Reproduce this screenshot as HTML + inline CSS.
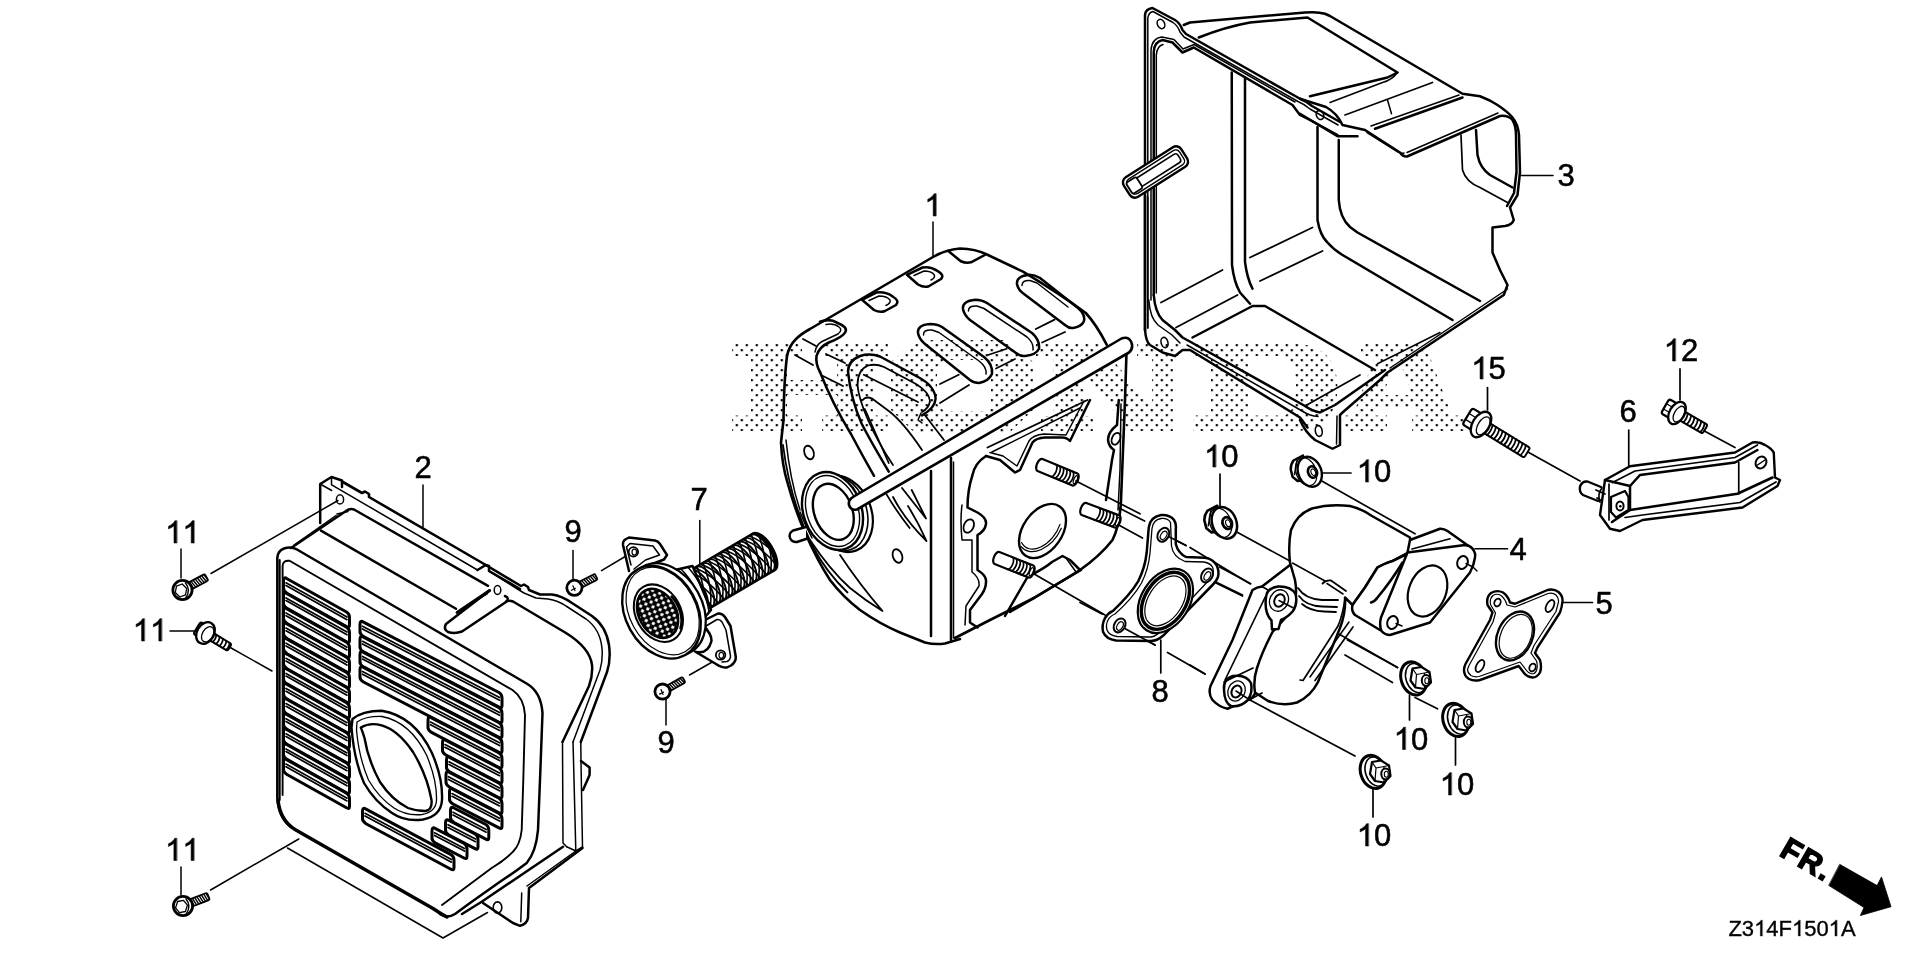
<!DOCTYPE html>
<html><head><meta charset="utf-8"><title>Diagram</title>
<style>
html,body{margin:0;padding:0;background:#fff;}
body{width:1920px;height:960px;overflow:hidden;font-family:"Liberation Sans",sans-serif;}
svg{display:block;font-family:"Liberation Sans",sans-serif;will-change:transform;}
</style></head><body>
<svg width="1920" height="960" viewBox="0 0 1920 960" fill="none" stroke="#000" stroke-linecap="round" stroke-linejoin="round">
<rect x="0" y="0" width="1920" height="960" fill="#fff" stroke="none"/>
<path d="M 763 0 H 583 V -1147 Q 518 -1085 412.5 -1023 Q 307 -961 223 -930 V -1104 Q 374 -1175 487 -1276 Q 600 -1377 647 -1472 H 763 Z" transform="translate(924.38,216) scale(0.01514)" fill="#000" vector-effect="non-scaling-stroke" stroke="#000" stroke-width="0.55"/>
<text x="414.38" y="478" font-size="31" fill="#000" stroke="#000" stroke-width="0.55">2</text>
<text x="1557.38" y="186" font-size="31" fill="#000" stroke="#000" stroke-width="0.55">3</text>
<text x="1509.38" y="560" font-size="31" fill="#000" stroke="#000" stroke-width="0.55">4</text>
<text x="1595.38" y="614" font-size="31" fill="#000" stroke="#000" stroke-width="0.55">5</text>
<text x="1619.38" y="422" font-size="31" fill="#000" stroke="#000" stroke-width="0.55">6</text>
<text x="690.38" y="510" font-size="31" fill="#000" stroke="#000" stroke-width="0.55">7</text>
<text x="1151.38" y="702" font-size="31" fill="#000" stroke="#000" stroke-width="0.55">8</text>
<text x="564.38" y="542" font-size="31" fill="#000" stroke="#000" stroke-width="0.55">9</text>
<text x="657.38" y="753" font-size="31" fill="#000" stroke="#000" stroke-width="0.55">9</text>
<path d="M 763 0 H 583 V -1147 Q 518 -1085 412.5 -1023 Q 307 -961 223 -930 V -1104 Q 374 -1175 487 -1276 Q 600 -1377 647 -1472 H 763 Z" transform="translate(1204.06,467) scale(0.01514)" fill="#000" vector-effect="non-scaling-stroke" stroke="#000" stroke-width="0.55"/>
<text x="1221.30" y="467" font-size="31" fill="#000" stroke="#000" stroke-width="0.55">0</text>
<path d="M 763 0 H 583 V -1147 Q 518 -1085 412.5 -1023 Q 307 -961 223 -930 V -1104 Q 374 -1175 487 -1276 Q 600 -1377 647 -1472 H 763 Z" transform="translate(1356.76,482) scale(0.01514)" fill="#000" vector-effect="non-scaling-stroke" stroke="#000" stroke-width="0.55"/>
<text x="1374.00" y="482" font-size="31" fill="#000" stroke="#000" stroke-width="0.55">0</text>
<path d="M 763 0 H 583 V -1147 Q 518 -1085 412.5 -1023 Q 307 -961 223 -930 V -1104 Q 374 -1175 487 -1276 Q 600 -1377 647 -1472 H 763 Z" transform="translate(1393.76,749.5) scale(0.01514)" fill="#000" vector-effect="non-scaling-stroke" stroke="#000" stroke-width="0.55"/>
<text x="1411.00" y="749.5" font-size="31" fill="#000" stroke="#000" stroke-width="0.55">0</text>
<path d="M 763 0 H 583 V -1147 Q 518 -1085 412.5 -1023 Q 307 -961 223 -930 V -1104 Q 374 -1175 487 -1276 Q 600 -1377 647 -1472 H 763 Z" transform="translate(1439.76,795) scale(0.01514)" fill="#000" vector-effect="non-scaling-stroke" stroke="#000" stroke-width="0.55"/>
<text x="1457.00" y="795" font-size="31" fill="#000" stroke="#000" stroke-width="0.55">0</text>
<path d="M 763 0 H 583 V -1147 Q 518 -1085 412.5 -1023 Q 307 -961 223 -930 V -1104 Q 374 -1175 487 -1276 Q 600 -1377 647 -1472 H 763 Z" transform="translate(1356.76,846) scale(0.01514)" fill="#000" vector-effect="non-scaling-stroke" stroke="#000" stroke-width="0.55"/>
<text x="1374.00" y="846" font-size="31" fill="#000" stroke="#000" stroke-width="0.55">0</text>
<path d="M 763 0 H 583 V -1147 Q 518 -1085 412.5 -1023 Q 307 -961 223 -930 V -1104 Q 374 -1175 487 -1276 Q 600 -1377 647 -1472 H 763 Z" transform="translate(165.16,543) scale(0.01514)" fill="#000" vector-effect="non-scaling-stroke" stroke="#000" stroke-width="0.55"/>
<path d="M 763 0 H 583 V -1147 Q 518 -1085 412.5 -1023 Q 307 -961 223 -930 V -1104 Q 374 -1175 487 -1276 Q 600 -1377 647 -1472 H 763 Z" transform="translate(182.40,543) scale(0.01514)" fill="#000" vector-effect="non-scaling-stroke" stroke="#000" stroke-width="0.55"/>
<path d="M 763 0 H 583 V -1147 Q 518 -1085 412.5 -1023 Q 307 -961 223 -930 V -1104 Q 374 -1175 487 -1276 Q 600 -1377 647 -1472 H 763 Z" transform="translate(132.76,641) scale(0.01514)" fill="#000" vector-effect="non-scaling-stroke" stroke="#000" stroke-width="0.55"/>
<path d="M 763 0 H 583 V -1147 Q 518 -1085 412.5 -1023 Q 307 -961 223 -930 V -1104 Q 374 -1175 487 -1276 Q 600 -1377 647 -1472 H 763 Z" transform="translate(150.00,641) scale(0.01514)" fill="#000" vector-effect="non-scaling-stroke" stroke="#000" stroke-width="0.55"/>
<path d="M 763 0 H 583 V -1147 Q 518 -1085 412.5 -1023 Q 307 -961 223 -930 V -1104 Q 374 -1175 487 -1276 Q 600 -1377 647 -1472 H 763 Z" transform="translate(165.06,860.5) scale(0.01514)" fill="#000" vector-effect="non-scaling-stroke" stroke="#000" stroke-width="0.55"/>
<path d="M 763 0 H 583 V -1147 Q 518 -1085 412.5 -1023 Q 307 -961 223 -930 V -1104 Q 374 -1175 487 -1276 Q 600 -1377 647 -1472 H 763 Z" transform="translate(182.30,860.5) scale(0.01514)" fill="#000" vector-effect="non-scaling-stroke" stroke="#000" stroke-width="0.55"/>
<path d="M 763 0 H 583 V -1147 Q 518 -1085 412.5 -1023 Q 307 -961 223 -930 V -1104 Q 374 -1175 487 -1276 Q 600 -1377 647 -1472 H 763 Z" transform="translate(1663.76,361) scale(0.01514)" fill="#000" vector-effect="non-scaling-stroke" stroke="#000" stroke-width="0.55"/>
<text x="1681.00" y="361" font-size="31" fill="#000" stroke="#000" stroke-width="0.55">2</text>
<path d="M 763 0 H 583 V -1147 Q 518 -1085 412.5 -1023 Q 307 -961 223 -930 V -1104 Q 374 -1175 487 -1276 Q 600 -1377 647 -1472 H 763 Z" transform="translate(1471.26,379) scale(0.01514)" fill="#000" vector-effect="non-scaling-stroke" stroke="#000" stroke-width="0.55"/>
<text x="1488.50" y="379" font-size="31" fill="#000" stroke="#000" stroke-width="0.55">5</text>
<text x="1728.41" y="936" font-size="22" fill="#000" stroke="#000" stroke-width="0.35">Z</text>
<text x="1741.85" y="936" font-size="22" fill="#000" stroke="#000" stroke-width="0.35">3</text>
<path d="M 763 0 H 583 V -1147 Q 518 -1085 412.5 -1023 Q 307 -961 223 -930 V -1104 Q 374 -1175 487 -1276 Q 600 -1377 647 -1472 H 763 Z" transform="translate(1754.08,936) scale(0.01074)" fill="#000" vector-effect="non-scaling-stroke" stroke="#000" stroke-width="0.35"/>
<text x="1766.32" y="936" font-size="22" fill="#000" stroke="#000" stroke-width="0.35">4</text>
<text x="1778.55" y="936" font-size="22" fill="#000" stroke="#000" stroke-width="0.35">F</text>
<path d="M 763 0 H 583 V -1147 Q 518 -1085 412.5 -1023 Q 307 -961 223 -930 V -1104 Q 374 -1175 487 -1276 Q 600 -1377 647 -1472 H 763 Z" transform="translate(1791.99,936) scale(0.01074)" fill="#000" vector-effect="non-scaling-stroke" stroke="#000" stroke-width="0.35"/>
<text x="1804.22" y="936" font-size="22" fill="#000" stroke="#000" stroke-width="0.35">5</text>
<text x="1816.45" y="936" font-size="22" fill="#000" stroke="#000" stroke-width="0.35">0</text>
<path d="M 763 0 H 583 V -1147 Q 518 -1085 412.5 -1023 Q 307 -961 223 -930 V -1104 Q 374 -1175 487 -1276 Q 600 -1377 647 -1472 H 763 Z" transform="translate(1828.68,936) scale(0.01074)" fill="#000" vector-effect="non-scaling-stroke" stroke="#000" stroke-width="0.35"/>
<text x="1840.92" y="936" font-size="22" fill="#000" stroke="#000" stroke-width="0.35">A</text>
<path d="M 320.2,523 L 320.2,484 L 331.5,477 L 342,480.5 L 342,487" stroke-width="2.5" fill="none" />
<path d="M 331.5,477 L 331.5,484.5" stroke-width="1.5" fill="none" />
<path d="M 342,481.5 L 362,493 L 365,491.5 L 369,494 L 369,497 L 485.8,565" stroke-width="2.6" fill="none" />
<path d="M 331.7,484.8 L 477.5,570" stroke-width="1.5" fill="none" />
<path d="M 320.2,484 L 331.7,490.5" stroke-width="1.5" fill="none" />
<ellipse cx="340" cy="499.4" rx="3.6" ry="4.6" stroke-width="1.5"/>
<path d="M 291,548 L 346,511 Q 350,508 354,509.5 L 488,585.8" stroke-width="2.5" fill="none" />
<path d="M 294,545 L 336,515.5" stroke-width="1.5" fill="none" />
<path d="M 337,514 L 348,511.5" stroke-width="1.5" fill="none" />
<path d="M 321,530.6 L 456,608.75" stroke-width="2.5" fill="none" />
<path d="M 489.6,590.5 L 457,612.5" stroke-width="2.8" fill="none" />
<path d="M 489.6,590.5 L 446,624 Q 443,629 448,632 Q 455,634 462,631.5 L 506,602 Q 510,598 505,596" stroke-width="2.5" fill="none" />
<path d="M 466.7,606 L 487.5,593.5" stroke-width="1.5" fill="none" />
<path d="M 477.5,570 L 485.8,565 L 489,566 L 489,571 L 520,589" stroke-width="2.5" fill="none" />
<ellipse cx="497.5" cy="590" rx="3.3" ry="4.4" stroke-width="1.5"/>
<path d="M 485.8,565 L 521,586 L 524,584.5 L 528,587 L 529,590 L 540,594.5 L 552,594.5 Q 562,596 572,603 L 592,616 Q 606,626 609,645 Q 611,660 607,672 L 580.8,742" stroke-width="2.5" fill="none" />
<path d="M 489,571 L 519,590 L 524,593 L 536,598 L 548,599 Q 558,600.5 566,606 L 586,619 Q 600,629 602,648 Q 603,660 600,670 L 573,742" stroke-width="1.5" fill="none" />
<path d="M 506,601.5 Q 509,600 513,601.5 L 566,633 Q 590,648 592,665 Q 593,675 589,686 L 562.5,742" stroke-width="2.5" fill="none" />
<path d="M 580.8,742 L 581,762 L 582.5,847" stroke-width="1.5" fill="none" />
<path d="M 573,742 L 573.5,760 L 575.8,850" stroke-width="1.5" fill="none" />
<path d="M 562.5,742 L 563,843 L 566.7,846.7" stroke-width="1.5" fill="none" />
<path d="M 581,761 L 589.6,767.5 L 589.6,775 L 583,790" stroke-width="2.5" fill="none" />
<path d="M 582.5,847 L 575.8,851 L 566.7,846.7" stroke-width="1.5" fill="none" />
<path d="M 582.5,848 L 529,888 L 528,918 Q 527,924 520,925.8 L 513,923 L 483,903" stroke-width="2.5" fill="none" />
<path d="M 521.7,893 L 520.8,921.7" stroke-width="1.5" fill="none" />
<ellipse cx="497.5" cy="907.5" rx="4.3" ry="5.6" stroke-width="1.6"/>
<path d="M 563,846.7 L 481.7,901.7 L 462,914" stroke-width="2.5" fill="none" />
<path d="M 575.8,851 L 527,886" stroke-width="1.5" fill="none" />
<path d="M 291.5,827.5 Q 278.5,818 277.3,798 L 277.3,558 Q 277.5,551 284,548.5 Q 291,546 297,549.5 L 527,683.75 Q 541,692 542.5,713 L 540,780 L 538,830 Q 536,852 526.7,863 Q 515,872 500,881.7 L 470,903 L 455,914 Q 447,919 440,914" stroke-width="2.5" fill="none" />
<path d="M 279.6,800 L 279.6,560" stroke-width="2.2" fill="none" />
<path d="M 282.6,795 L 282.6,566 Q 282.8,560 289.6,560.8 L 512.5,690 Q 524,698 525,715 L 523.3,780 L 521.7,830 Q 520,845 513,851.7 Q 505,860 491.7,868 L 442,905" stroke-width="1.9" fill="none" />
<path d="M 278,800 Q 280,820 295,829.5 L 433,908.5 Q 441,914 447,917" stroke-width="3.4" fill="none" />
<path d="M 287.0,578.7 L 346.5,612.0 Q 349.5,613.7 349.5,617.7 L 349.5,625.3 Q 349.5,628.3 346.5,626.6 L 287.0,593.3 Q 283.0,590.6 283.5,587.6 L 283.5,581.0 Q 283.5,576.0 287.0,578.7 Z" stroke-width="3.0" fill="#fff" />
<path d="M 286.0,582.8 L 347.0,617.0" stroke-width="1.7" fill="none" />
<path d="M 286.0,585.5 L 347.0,619.7" stroke-width="1.7" fill="none" />
<path d="M 287.0,593.8 L 346.5,627.1 Q 349.5,628.8 349.5,632.8 L 349.5,640.4 Q 349.5,643.4 346.5,641.7 L 287.0,608.4 Q 283.0,605.7 283.5,602.7 L 283.5,596.1 Q 283.5,591.1 287.0,593.8 Z" stroke-width="3.0" fill="#fff" />
<path d="M 286.0,597.9 L 347.0,632.1" stroke-width="1.7" fill="none" />
<path d="M 286.0,600.6 L 347.0,634.8" stroke-width="1.7" fill="none" />
<path d="M 287.0,608.9 L 346.5,642.2 Q 349.5,643.9 349.5,647.9 L 349.5,655.5 Q 349.5,658.5 346.5,656.8 L 287.0,623.5 Q 283.0,620.8 283.5,617.8 L 283.5,611.2 Q 283.5,606.2 287.0,608.9 Z" stroke-width="3.0" fill="#fff" />
<path d="M 286.0,613.0 L 347.0,647.2" stroke-width="1.7" fill="none" />
<path d="M 286.0,615.7 L 347.0,649.9" stroke-width="1.7" fill="none" />
<path d="M 287.0,624.0 L 346.5,657.3 Q 349.5,659.0 349.5,663.0 L 349.5,670.6 Q 349.5,673.6 346.5,671.9 L 287.0,638.6 Q 283.0,635.9 283.5,632.9 L 283.5,626.3 Q 283.5,621.3 287.0,624.0 Z" stroke-width="3.0" fill="#fff" />
<path d="M 286.0,628.1 L 347.0,662.3" stroke-width="1.7" fill="none" />
<path d="M 286.0,630.8 L 347.0,665.0" stroke-width="1.7" fill="none" />
<path d="M 287.0,639.1 L 346.5,672.4 Q 349.5,674.1 349.5,678.1 L 349.5,685.7 Q 349.5,688.7 346.5,687.0 L 287.0,653.7 Q 283.0,651.0 283.5,648.0 L 283.5,641.4 Q 283.5,636.4 287.0,639.1 Z" stroke-width="3.0" fill="#fff" />
<path d="M 286.0,643.2 L 347.0,677.4" stroke-width="1.7" fill="none" />
<path d="M 286.0,645.9 L 347.0,680.1" stroke-width="1.7" fill="none" />
<path d="M 287.0,654.2 L 346.5,687.5 Q 349.5,689.2 349.5,693.2 L 349.5,700.8 Q 349.5,703.8 346.5,702.1 L 287.0,668.8 Q 283.0,666.1 283.5,663.1 L 283.5,656.5 Q 283.5,651.5 287.0,654.2 Z" stroke-width="3.0" fill="#fff" />
<path d="M 286.0,658.3 L 347.0,692.5" stroke-width="1.7" fill="none" />
<path d="M 286.0,661.0 L 347.0,695.2" stroke-width="1.7" fill="none" />
<path d="M 287.0,669.3 L 346.5,702.6 Q 349.5,704.3 349.5,708.3 L 349.5,715.9 Q 349.5,718.9 346.5,717.2 L 287.0,683.9 Q 283.0,681.2 283.5,678.2 L 283.5,671.6 Q 283.5,666.6 287.0,669.3 Z" stroke-width="3.0" fill="#fff" />
<path d="M 286.0,673.4 L 347.0,707.6" stroke-width="1.7" fill="none" />
<path d="M 286.0,676.1 L 347.0,710.3" stroke-width="1.7" fill="none" />
<path d="M 287.0,684.4 L 346.5,717.7 Q 349.5,719.4 349.5,723.4 L 349.5,731.0 Q 349.5,734.0 346.5,732.3 L 287.0,699.0 Q 283.0,696.3 283.5,693.3 L 283.5,686.7 Q 283.5,681.7 287.0,684.4 Z" stroke-width="3.0" fill="#fff" />
<path d="M 286.0,688.5 L 347.0,722.7" stroke-width="1.7" fill="none" />
<path d="M 286.0,691.2 L 347.0,725.4" stroke-width="1.7" fill="none" />
<path d="M 287.0,699.5 L 346.5,732.8 Q 349.5,734.5 349.5,738.5 L 349.5,746.1 Q 349.5,749.1 346.5,747.4 L 287.0,714.1 Q 283.0,711.4 283.5,708.4 L 283.5,701.8 Q 283.5,696.8 287.0,699.5 Z" stroke-width="3.0" fill="#fff" />
<path d="M 286.0,703.6 L 347.0,737.8" stroke-width="1.7" fill="none" />
<path d="M 286.0,706.3 L 347.0,740.5" stroke-width="1.7" fill="none" />
<path d="M 287.0,714.6 L 346.5,747.9 Q 349.5,749.6 349.5,753.6 L 349.5,761.2 Q 349.5,764.2 346.5,762.5 L 287.0,729.2 Q 283.0,726.5 283.5,723.5 L 283.5,716.9 Q 283.5,711.9 287.0,714.6 Z" stroke-width="3.0" fill="#fff" />
<path d="M 286.0,718.7 L 347.0,752.9" stroke-width="1.7" fill="none" />
<path d="M 286.0,721.4 L 347.0,755.6" stroke-width="1.7" fill="none" />
<path d="M 287.0,729.7 L 346.5,763.0 Q 349.5,764.7 349.5,768.7 L 349.5,776.3 Q 349.5,779.3 346.5,777.6 L 287.0,744.3 Q 283.0,741.6 283.5,738.6 L 283.5,732.0 Q 283.5,727.0 287.0,729.7 Z" stroke-width="3.0" fill="#fff" />
<path d="M 286.0,733.8 L 347.0,768.0" stroke-width="1.7" fill="none" />
<path d="M 286.0,736.5 L 347.0,770.7" stroke-width="1.7" fill="none" />
<path d="M 287.0,744.8 L 346.5,778.1 Q 349.5,779.8 349.5,783.8 L 349.5,791.4 Q 349.5,794.4 346.5,792.7 L 287.0,759.4 Q 283.0,756.7 283.5,753.7 L 283.5,747.1 Q 283.5,742.1 287.0,744.8 Z" stroke-width="3.0" fill="#fff" />
<path d="M 286.0,748.9 L 347.0,783.1" stroke-width="1.7" fill="none" />
<path d="M 286.0,751.6 L 347.0,785.8" stroke-width="1.7" fill="none" />
<path d="M 287.0,759.9 L 346.5,793.2 Q 349.5,794.9 349.5,798.9 L 349.5,806.5 Q 349.5,809.5 346.5,807.8 L 287.0,774.5 Q 283.0,771.8 283.5,768.8 L 283.5,762.2 Q 283.5,757.2 287.0,759.9 Z" stroke-width="3.0" fill="#fff" />
<path d="M 286.0,764.0 L 347.0,798.2" stroke-width="1.7" fill="none" />
<path d="M 286.0,766.7 L 347.0,800.9" stroke-width="1.7" fill="none" />
<path d="M 363.5,622.1 L 499.0,692.5 Q 502.0,694.1 502.0,698.1 L 502.0,705.7 Q 502.0,708.7 499.0,707.1 L 363.5,636.7 Q 359.5,634.1 360.0,631.1 L 360.0,624.5 Q 360.0,619.5 363.5,622.1 Z" stroke-width="3.0" fill="#fff" />
<path d="M 362.5,626.2 L 499.5,697.5" stroke-width="1.7" fill="none" />
<path d="M 362.5,628.9 L 499.5,700.2" stroke-width="1.7" fill="none" />
<path d="M 363.5,637.2 L 499.0,707.6 Q 502.0,709.2 502.0,713.2 L 502.0,720.8 Q 502.0,723.8 499.0,722.2 L 363.5,651.8 Q 359.5,649.2 360.0,646.2 L 360.0,639.6 Q 360.0,634.6 363.5,637.2 Z" stroke-width="3.0" fill="#fff" />
<path d="M 362.5,641.3 L 499.5,712.6" stroke-width="1.7" fill="none" />
<path d="M 362.5,644.0 L 499.5,715.3" stroke-width="1.7" fill="none" />
<path d="M 363.5,652.3 L 499.0,722.7 Q 502.0,724.3 502.0,728.3 L 502.0,735.9 Q 502.0,738.9 499.0,737.3 L 363.5,666.9 Q 359.5,664.3 360.0,661.3 L 360.0,654.7 Q 360.0,649.7 363.5,652.3 Z" stroke-width="3.0" fill="#fff" />
<path d="M 362.5,656.4 L 499.5,727.7" stroke-width="1.7" fill="none" />
<path d="M 362.5,659.1 L 499.5,730.4" stroke-width="1.7" fill="none" />
<path d="M 363.5,667.4 L 499.0,737.8 Q 502.0,739.4 502.0,743.4 L 502.0,751.0 Q 502.0,754.0 499.0,752.4 L 363.5,682.0 Q 359.5,679.4 360.0,676.4 L 360.0,669.8 Q 360.0,664.8 363.5,667.4 Z" stroke-width="3.0" fill="#fff" />
<path d="M 362.5,671.5 L 499.5,742.8" stroke-width="1.7" fill="none" />
<path d="M 362.5,674.2 L 499.5,745.5" stroke-width="1.7" fill="none" />
<path d="M 431.5,717.8 L 499.0,752.9 Q 502.0,754.5 502.0,758.5 L 502.0,766.1 Q 502.0,769.1 499.0,767.5 L 431.5,732.4 Q 427.5,729.9 428.0,726.9 L 428.0,720.3 Q 428.0,715.3 431.5,717.8 Z" stroke-width="3.0" fill="#fff" />
<path d="M 430.5,722.0 L 499.5,757.9" stroke-width="1.7" fill="none" />
<path d="M 430.5,724.7 L 499.5,760.6" stroke-width="1.7" fill="none" />
<path d="M 446.0,740.5 L 499.0,768.0 Q 502.0,769.6 502.0,773.6 L 502.0,781.2 Q 502.0,784.2 499.0,782.6 L 446.0,755.1 Q 442.0,752.5 442.5,749.5 L 442.5,742.9 Q 442.5,737.9 446.0,740.5 Z" stroke-width="3.0" fill="#fff" />
<path d="M 445.0,744.6 L 499.5,773.0" stroke-width="1.7" fill="none" />
<path d="M 445.0,747.3 L 499.5,775.7" stroke-width="1.7" fill="none" />
<path d="M 450.0,757.6 L 499.0,783.1 Q 502.0,784.7 502.0,788.7 L 502.0,796.3 Q 502.0,799.3 499.0,797.7 L 450.0,772.2 Q 446.0,769.7 446.5,766.7 L 446.5,760.1 Q 446.5,755.1 450.0,757.6 Z" stroke-width="3.0" fill="#fff" />
<path d="M 449.0,761.8 L 499.5,788.1" stroke-width="1.7" fill="none" />
<path d="M 449.0,764.5 L 499.5,790.8" stroke-width="1.7" fill="none" />
<path d="M 449.5,772.5 L 499.0,798.2 Q 502.0,799.8 502.0,803.8 L 502.0,811.4 Q 502.0,814.4 499.0,812.8 L 449.5,787.1 Q 445.5,784.5 446.0,781.5 L 446.0,774.9 Q 446.0,769.9 449.5,772.5 Z" stroke-width="3.0" fill="#fff" />
<path d="M 448.5,776.7 L 499.5,803.2" stroke-width="1.7" fill="none" />
<path d="M 448.5,779.4 L 499.5,805.9" stroke-width="1.7" fill="none" />
<path d="M 453.0,789.4 L 499.0,813.3 Q 502.0,814.9 502.0,818.9 L 502.0,826.5 Q 502.0,829.5 499.0,827.9 L 453.0,804.0 Q 449.0,801.4 449.5,798.4 L 449.5,791.8 Q 449.5,786.8 453.0,789.4 Z" stroke-width="3.0" fill="#fff" />
<path d="M 452.0,793.6 L 499.5,818.3" stroke-width="1.7" fill="none" />
<path d="M 452.0,796.3 L 499.5,821.0" stroke-width="1.7" fill="none" />
<path d="M 454.0,808.0 L 485.8,824.5 Q 488.8,826.1 488.8,830.1 L 488.8,837.7 Q 488.8,840.7 485.8,839.1 L 454.0,822.6 Q 450.0,820.1 450.5,817.1 L 450.5,810.5 Q 450.5,805.5 454.0,808.0 Z" stroke-width="3.0" fill="#fff" />
<path d="M 453.0,812.2 L 486.2,829.5" stroke-width="1.7" fill="none" />
<path d="M 453.0,814.9 L 486.2,832.2" stroke-width="1.7" fill="none" />
<path d="M 449.0,820.5 L 475.0,834.0 Q 478.0,835.6 478.0,839.6 L 478.0,847.2 Q 478.0,850.2 475.0,848.6 L 449.0,835.1 Q 445.0,832.6 445.5,829.6 L 445.5,823.0 Q 445.5,818.0 449.0,820.5 Z" stroke-width="3.0" fill="#fff" />
<path d="M 448.0,824.7 L 475.5,839.0" stroke-width="1.7" fill="none" />
<path d="M 448.0,827.4 L 475.5,841.7" stroke-width="1.7" fill="none" />
<path d="M 435.5,828.6 L 464.0,843.4 Q 467.0,845.0 467.0,849.0 L 467.0,856.6 Q 467.0,859.6 464.0,858.0 L 435.5,843.2 Q 431.5,840.6 432.0,837.6 L 432.0,831.0 Q 432.0,826.0 435.5,828.6 Z" stroke-width="3.0" fill="#fff" />
<path d="M 434.5,832.8 L 464.5,848.4" stroke-width="1.7" fill="none" />
<path d="M 434.5,835.5 L 464.5,851.1" stroke-width="1.7" fill="none" />
<path d="M 366.0,809.1 L 451.0,854.6 Q 454.0,856.2 454.0,860.2 L 454.0,867.8 Q 454.0,870.8 451.0,869.2 L 366.0,823.7 Q 362.0,821.1 362.5,818.1 L 362.5,811.5 Q 362.5,806.5 366.0,809.1 Z" stroke-width="3.0" fill="#fff" />
<path d="M 365.0,813.3 L 451.5,859.5" stroke-width="1.7" fill="none" />
<path d="M 365.0,816.0 L 451.5,862.2" stroke-width="1.7" fill="none" />
<path d="M 352.5,719 Q 362,711 381.7,710.8 Q 414,716 431.7,752.5 Q 443,778 442,800 Q 441,816 423,819.5 Q 405,822 392,813 Q 375,802 364,783 Q 354,760 351.5,727.5 Z" stroke-width="2.4" fill="#fff" />
<path d="M 357,722 Q 366,716 382,716.5 Q 410,722 426.5,755 Q 437,780 436.5,800 Q 436,812 422,814.5 Q 406,816 394,808 Q 379,798 368.5,780 Q 359,758 356.5,730 Z" stroke-width="1.3" fill="none" />
<path d="M 360.8,727.5 Q 370,722 381.7,725.4 Q 398,730 413,752 Q 427,775 431.5,800 Q 432.5,810 425.4,811 Q 416,811 408,808 Q 392,800 380,782 Q 368,760 364.5,738 Q 362,730 360.8,727.5 Z" stroke-width="2.4" fill="none" />
<line x1="423" y1="485" x2="423" y2="527" stroke-width="1.5"/>
<line x1="181" y1="549" x2="181" y2="578" stroke-width="1.5"/>
<line x1="170" y1="631" x2="194" y2="631" stroke-width="1.5"/>
<line x1="181" y1="867" x2="181" y2="895" stroke-width="1.5"/>
<path d="M 287.5,848 L 443,938 L 487.5,912.5" stroke-width="1.5" fill="none" />
<defs><pattern id="dots" x="730.7" y="344.1" width="10" height="10" patternUnits="userSpaceOnUse"><rect x="5" y="0" width="2.2" height="2.2" fill="#000" stroke="none"/><rect x="0" y="5" width="2.2" height="2.2" fill="#000" stroke="none"/></pattern></defs>
<path d="M732,344 H802 V356 H787 V380 H837 V356 H824 V344 H888 V356 H873 V415.5 H888 V431 H822 V415.5 H837 V395 H787 V415.5 H802 V431 H732 V415.5 H751 V356 H732 Z M916,340 H1008 L1033,362 V410 L1008,434 H916 L891,410 V362 Z M944,360 L937,367 V404 L944,411 H984 L991,404 V367 L984,360 Z M1036,344 H1100 L1152,408 V356 H1137 V344 H1180 V356 H1173 V431 H1130 L1085,374 V416 H1093 V431 H1041 V416 H1053 V356 H1036 Z M1193,344 H1300 Q1337,348 1337.5,387 Q1337,427 1300,431 H1193 V415.5 H1211 V356 H1193 Z M1248,356 V415.5 H1283 Q1296,414 1296,387 Q1296,358 1283,356 Z M1361,344 H1425 L1452,415.5 H1464 V431 H1412 V415.5 H1420 L1416,407 H1378 L1375,415.5 H1387 V431 H1343.5 V415.5 H1353 L1375,356 H1361 Z M1383,395 H1412 L1400,362 H1395 Z" fill="url(#dots)" fill-rule="evenodd" stroke="none"/>
<path d="M 783.5,420 Q 784,380 787,356 Q 789,346 796,339 Q 801,334 810,329 L 933,257 Q 946,249.5 960,248.5 Q 975,248.5 988,255 L 1023,271.7 Q 1060,294 1085.8,313 Q 1096,324 1106.7,344.6" stroke-width="2.6" fill="none" />
<path d="M 783.5,420 L 781,442.5 Q 782,465 787.5,482.5 Q 795,510 805,532.5 Q 817,560 830,580 Q 843,597 860,610 Q 880,624 900,632.5 L 925,642.5 Q 935,645 945,643.5 L 960,639" stroke-width="2.6" fill="none" />
<path d="M 1126.5,352 L 1125,400 L 1121,500 Q 1120,525 1112.5,540 Q 1100,556 1080,570 L 1035,597.5 L 990,620 L 955,638" stroke-width="2.6" fill="none" />
<path d="M 931,471 L 931,636" stroke-width="2.5" fill="none" />
<path d="M 951,458 L 951,640" stroke-width="2.5" fill="none" />
<path d="M 953.5,462 L 953.5,638" stroke-width="1.5" fill="none" />
<path d="M 786,440 Q 790,480 800,510" stroke-width="1.5" fill="none" />
<path d="M 820,321.7 Q 830,318 837,322.7 Q 848,327 845.4,332 Q 843,337 828.75,342.5 Q 819,347 816.5,356 Q 815.5,364 820,372" stroke-width="2.6" fill="none" />
<path d="M 826,324.5 Q 834,323 839,327 Q 843,330 838,334 L 822,341.5 Q 816,345 815,352" stroke-width="1.5" fill="none" />
<path d="M 862,299.8 L 876.7,292.5 Q 886,291.5 893,296.7 Q 900,301 896,305 L 885,311 Q 880,313 874,310 Z" stroke-width="2.5" fill="none" />
<path d="M 869,300.5 L 879,296 Q 887,296 890,300 Q 891,303 886,305.5" stroke-width="1.5" fill="none" />
<path d="M 907,274.8 L 922.5,267.5 Q 930,266 937,270.6 Q 945,275 941,279 L 928.75,286.25 Q 924,288 918,284.5 Z" stroke-width="2.5" fill="none" />
<path d="M 914,275.5 L 924,271 Q 931,271 934,274.5 Q 936,277.5 931,280" stroke-width="1.5" fill="none" />
<path d="M 948,250.8 L 960.8,261.25 Q 966,263.5 971,262.3 L 984.8,255" stroke-width="2.5" fill="none" />
<path d="M 1017,284 Q 1016,276 1029.6,274.8 Q 1035,275 1040,278 L 1078,308 Q 1086,315 1083.75,321.7 Q 1081,327 1073,328 Q 1069,328.5 1065,325 L 1024,294 Q 1018,290 1017,284 Z" stroke-width="2.5" fill="none" />
<path d="M 1022,285.5 Q 1022,280 1030,280.5 L 1037,283 L 1068,307" stroke-width="1.5" fill="none" />
<path d="M 963,309 Q 962,301 975.4,299.8 Q 982,300 987,303 L 1032,333 Q 1040,340 1039,348.75 Q 1036,355 1025,356 Q 1020,356.5 1016,353 L 970,320 Q 964,315 963,309 Z" stroke-width="2.5" fill="none" />
<path d="M 968.5,311 Q 968,305.5 977,306 L 984,308.5 L 1027,337 Q 1034,343 1033,350" stroke-width="1.5" fill="none" />
<path d="M 918,333 Q 917,325 930,324 Q 937,324 942,327 L 984,357 Q 993,364 992,373.75 Q 989,381 979,383 Q 974,383 970,380 L 925,344 Q 919,339 918,333 Z" stroke-width="2.5" fill="none" />
<path d="M 923.5,335 Q 923,329.5 932,330 L 939,332.5 L 979,361 Q 987,367 986,374" stroke-width="1.5" fill="none" />
<line x1="1035.8" y1="329" x2="1054.6" y2="319.6" stroke-width="1.8"/>
<line x1="1042" y1="342.5" x2="1065" y2="332" stroke-width="1.8"/>
<line x1="988" y1="355" x2="1006.7" y2="348.75" stroke-width="1.8"/>
<line x1="996" y1="368.5" x2="1015" y2="359" stroke-width="1.8"/>
<line x1="940" y1="384" x2="958.75" y2="374.8" stroke-width="1.8"/>
<line x1="940" y1="403" x2="969" y2="385" stroke-width="1.8"/>
<line x1="803" y1="339" x2="816" y2="346" stroke-width="1.8"/>
<line x1="795" y1="355" x2="813" y2="365" stroke-width="1.8"/>
<line x1="826" y1="354" x2="845" y2="363" stroke-width="1.8"/>
<line x1="823" y1="376" x2="843" y2="386" stroke-width="1.8"/>
<path d="M 888.75,471.7 Q 870,440 861.7,423.75 Q 851,400 848,371.7 Q 848,361 860,356 Q 870,353 880,356.5 L 918,377 Q 935,386 935.6,398.75 Q 935,408 922,415.4" stroke-width="2.5" fill="none" />
<path d="M 893,465 Q 878,442.5 868,420 Q 858.5,398 857.5,385 Q 857.5,370 868,365.5 Q 876,363.5 884,367 L 916,384 Q 929,392 930,401 Q 929,408 922,412" stroke-width="1.8" fill="none" />
<path d="M 863.75,374.8 L 918,402" stroke-width="1.8" fill="none" />
<path d="M 862.7,399.8 Q 866,396 872,398.5 L 888.75,411 Q 903,421.7 922,450" stroke-width="1.8" fill="none" />
<path d="M 864.8,409 L 888.75,463" stroke-width="1.8" fill="none" />
<path d="M 924,414 L 944,440" stroke-width="1.8" fill="none" />
<path d="M 921,413 L 918,420 L 922,423" stroke-width="1.5" fill="none" />
<path d="M 820,372 Q 832,403 851,434 Q 862,455 874,475.8" stroke-width="2.5" fill="none" />
<path d="M 902,488 L 926,518.5 L 911.7,490" stroke-width="1.8" fill="none" />
<path d="M 886.7,494.6 Q 897,512 909.6,528" stroke-width="1.8" fill="none" />
<path d="M 893,497 Q 905,520 926.5,541 Q 918,522 908,506" stroke-width="1.8" fill="none" />
<path d="M 783,445 Q 790,500 812,545 Q 826,572 847.5,592.5" stroke-width="1.8" fill="none" />
<path d="M 810,540 Q 830,570 850,588 Q 866,601 882.5,611 Q 860,585 840,555" stroke-width="1.8" fill="none" />
<path d="M 800,512 Q 805,525 812,538" stroke-width="1.5" fill="none" />
<ellipse cx="809" cy="452.5" rx="4.6" ry="7" transform="rotate(-20 809 452.5)" stroke-width="1.8"/>
<ellipse cx="897.5" cy="556" rx="4.6" ry="7" transform="rotate(-20 897.5 556)" stroke-width="1.8"/>
<path d="M 806,527 L 793,530.5 Q 788.5,533 790,538 Q 792,542.5 797,542 L 806,539" stroke-width="2.4" fill="#fff" />
<g transform="translate(842.5,514) rotate(-20)"><ellipse cx="0" cy="0" rx="29" ry="39" fill="#fff" stroke-width="2.2"/></g>
<g transform="translate(837.5,512.5) rotate(-20)"><ellipse cx="0" cy="0" rx="29" ry="39.5" fill="#fff" stroke-width="1.6"/></g>
<g transform="translate(832.5,511) rotate(-20)"><ellipse cx="0" cy="0" rx="29" ry="40" fill="#fff" stroke-width="2.4"/><ellipse cx="0" cy="0" rx="25.5" ry="36.5" fill="none" stroke-width="1.4"/><ellipse cx="0.5" cy="1" rx="19" ry="29" fill="none" stroke-width="2.4"/></g>
<path d="M 853,497 L 1121.5,338.5 Q 1128,336 1131,341.5 Q 1134,348 1129,352.5 L 857,509.5 Q 851,511 849,505 Q 848,500 853,497 Z" stroke-width="2.6" fill="#fff" />
<path d="M 1090,400 L 1087.5,405 L 1070,441 Q 1067,437.5 1062,437.5 L 1045,437.5 Q 1036,438 1032.5,442.5 L 1020,470 L 1015,472.5 L 1000,460 L 986,456" stroke-width="2.5" fill="none" />
<path d="M 1084,401 L 1066,435 L 1044,434 Q 1033,435 1029,441 L 1017,466 L 1003,456 L 990,452.5" stroke-width="1.5" fill="none" />
<path d="M 987.5,447.5 L 1087.5,400" stroke-width="1.8" fill="none" />
<path d="M 992,452 L 1080,408" stroke-width="1.5" fill="none" />
<path d="M 986,456 Q 975,463 972.5,475 Q 967.5,490 967.5,507.5 L 977.5,512.5 Q 987,518 986,524 Q 985,531 977.5,535 L 977.5,570 Q 987,576 986,582 Q 986,588 982,594 L 970,610 L 970,622.5 L 977.5,627.5" stroke-width="2.5" fill="none" />
<path d="M 962,505 Q 960,520 962,540 L 972,540 L 972,572 Q 980,578 979,586 L 966,606 L 965,625" stroke-width="1.5" fill="none" />
<ellipse cx="968.75" cy="526" rx="4.8" ry="7" transform="rotate(25 968.75 526)" stroke-width="1.8"/>
<path d="M 1118.75,400 L 1117,425 Q 1108,432 1108,440 Q 1109,447 1114,450 L 1112,460 L 1106,500" stroke-width="2.5" fill="none" />
<ellipse cx="1116" cy="438.75" rx="4" ry="6.2" transform="rotate(25 1116 438.75)" stroke-width="1.8"/>
<path d="M 1121,404 L 1120,470 L 1118,510" stroke-width="1.5" fill="none" />
<g transform="translate(1042.5,531) rotate(35)"><ellipse cx="0" cy="0" rx="19.5" ry="30" fill="#fff" stroke-width="2.4"/><path d="M 16.5,-12 A 19.5 30 0 0 1 -6,26" stroke-width="1.2" transform="translate(-2.6,-1)"/><path d="M 14,-14 A 17 27 0 0 1 -7,23" stroke-width="1.2" transform="translate(-3.5,-1.5)"/></g>
<path d="M 1031,575 Q 1045,568 1052,562 L 1062.5,556 L 1070,560 L 1080,570" stroke-width="2.5" fill="none" />
<path d="M 1066,558 L 1076,572" stroke-width="1.5" fill="none" />
<path d="M 1027.5,577 L 1005,616" stroke-width="2.5" fill="none" />
<path d="M 1081,570 L 1010,612" stroke-width="2.5" fill="none" />
<g transform="translate(1040,465) rotate(22.5)"><path d="M 0,-6.5 L 37.88469347902923,-6.5 A 3 6.5 0 0 1 37.88469347902923,6.5 L 0,6.5 A 3.2 6.5 0 0 1 0,-6.5 Z" fill="#fff" stroke-width="2.2"/><path d="M 14.4,-6.5 A 3 6.5 0 0 1 14.4,6.5" stroke-width="1.7"/><path d="M 18.0,-6.5 A 3 6.5 0 0 1 18.0,6.5" stroke-width="1.7"/><path d="M 21.6,-6.5 A 3 6.5 0 0 1 21.6,6.5" stroke-width="1.7"/><path d="M 25.2,-6.5 A 3 6.5 0 0 1 25.2,6.5" stroke-width="1.7"/><path d="M 28.8,-6.5 A 3 6.5 0 0 1 28.8,6.5" stroke-width="1.7"/><path d="M 32.4,-6.5 A 3 6.5 0 0 1 32.4,6.5" stroke-width="1.7"/><ellipse cx="38.38469347902923" cy="0" rx="1.6" ry="4.3" stroke-width="1.2"/></g>
<g transform="translate(1084,509) rotate(20.7)"><path d="M 0,-6.5 L 35.28809997718778,-6.5 A 3 6.5 0 0 1 35.28809997718778,6.5 L 0,6.5 A 3.2 6.5 0 0 1 0,-6.5 Z" fill="#fff" stroke-width="2.2"/><path d="M 13.4,-6.5 A 3 6.5 0 0 1 13.4,6.5" stroke-width="1.7"/><path d="M 17.0,-6.5 A 3 6.5 0 0 1 17.0,6.5" stroke-width="1.7"/><path d="M 20.6,-6.5 A 3 6.5 0 0 1 20.6,6.5" stroke-width="1.7"/><path d="M 24.2,-6.5 A 3 6.5 0 0 1 24.2,6.5" stroke-width="1.7"/><path d="M 27.8,-6.5 A 3 6.5 0 0 1 27.8,6.5" stroke-width="1.7"/><path d="M 31.4,-6.5 A 3 6.5 0 0 1 31.4,6.5" stroke-width="1.7"/><ellipse cx="35.78809997718778" cy="0" rx="1.6" ry="4.3" stroke-width="1.2"/></g>
<g transform="translate(997,558) rotate(21.7)"><path d="M 0,-6.5 L 36.58209944768069,-6.5 A 3 6.5 0 0 1 36.58209944768069,6.5 L 0,6.5 A 3.2 6.5 0 0 1 0,-6.5 Z" fill="#fff" stroke-width="2.2"/><path d="M 13.9,-6.5 A 3 6.5 0 0 1 13.9,6.5" stroke-width="1.7"/><path d="M 17.5,-6.5 A 3 6.5 0 0 1 17.5,6.5" stroke-width="1.7"/><path d="M 21.1,-6.5 A 3 6.5 0 0 1 21.1,6.5" stroke-width="1.7"/><path d="M 24.7,-6.5 A 3 6.5 0 0 1 24.7,6.5" stroke-width="1.7"/><path d="M 28.3,-6.5 A 3 6.5 0 0 1 28.3,6.5" stroke-width="1.7"/><path d="M 31.9,-6.5 A 3 6.5 0 0 1 31.9,6.5" stroke-width="1.7"/><ellipse cx="37.08209944768069" cy="0" rx="1.6" ry="4.3" stroke-width="1.2"/></g>
<path d="M 1145,330 L 1145,15 Q 1145.5,9 1152.5,8 L 1175,20 Q 1180,23 1182.5,30 L 1186,34 L 1300,98.75 Q 1306,101 1312,106 L 1340,122" stroke-width="2.5" fill="none" />
<path d="M 1147.8,328 L 1147.8,18 Q 1148.5,12.5 1153,11.5 L 1173,22.5 Q 1178,26 1180,32 L 1184,37 L 1298,101.5 Q 1304,104 1310,109 L 1338,125" stroke-width="1.5" fill="none" />
<path d="M 1153.75,295 L 1153.75,52 Q 1154,42 1162.5,40 L 1172.5,42.5 L 1182.5,52.5 L 1193.75,47.5 L 1292.5,105 L 1300,115 L 1310,120 L 1337.5,135" stroke-width="2.5" fill="none" />
<path d="M 1151,300 L 1151,50 Q 1152,38 1162,37 L 1174,39.5 L 1183,49 L 1194,44.5 L 1295,102" stroke-width="1.5" fill="none" />
<path d="M 1156.3,293 L 1156.3,55 Q 1157,46 1163,44.5" stroke-width="1.5" fill="none" />
<ellipse cx="1161" cy="24" rx="3.6" ry="4.8" transform="rotate(-25 1161 24)" stroke-width="1.6"/>
<ellipse cx="1320" cy="115" rx="3.6" ry="4.6" transform="rotate(-25 1320 115)" stroke-width="1.6"/>
<ellipse cx="1164.5" cy="342.5" rx="3.4" ry="5.2" transform="rotate(-15 1164.5 342.5)" stroke-width="1.6"/>
<ellipse cx="1318.75" cy="431" rx="3.4" ry="5.4" transform="rotate(-10 1318.75 431)" stroke-width="1.6"/>
<path d="M 1183.75,25 L 1190,22.5 L 1305,12.5 Q 1318,11.5 1325,13.75 L 1330,16 L 1462.5,93.75 L 1480,96.25 Q 1490,100 1497.5,105 Q 1508,112 1512.5,117.5 Q 1518,124 1519,135 L 1520,172.5 L 1517.5,195 L 1510,207.5 L 1513.75,220 Q 1512,225 1505,226 L 1492.5,227.5 L 1492.5,252.5 L 1500,270 L 1507.5,285 L 1503.75,295 L 1387.5,372.5 L 1380,380 L 1342.5,412.5 L 1340,415 L 1340,445 L 1332.5,448.75 L 1315,440 Q 1305,432 1300,420" stroke-width="2.5" fill="none" />
<path d="M 1198.75,37.5 Q 1225,27 1250,22.5 L 1307.5,17.5 L 1397.5,72.5 L 1387.5,77.5 L 1310,96.25" stroke-width="2.5" fill="none" />
<path d="M 1397.5,72.5 Q 1392,80 1382.5,82.5 L 1330,102.5" stroke-width="1.5" fill="none" />
<path d="M 1345,115 L 1432.5,82.5" stroke-width="1.7" fill="none" />
<path d="M 1387.5,100 L 1391.5,113.75" stroke-width="1.5" fill="none" />
<path d="M 1300,98.75 L 1326,107 Q 1337,113 1342.5,125 L 1365,130 L 1400,152.5 Q 1403,157 1407,156.5 L 1500,116 Q 1508,115 1512.5,120 Q 1516,126 1516,135 L 1516.5,172 L 1514,193 L 1507,206" stroke-width="2.5" fill="none" />
<path d="M 1375,128.75 L 1462.5,97.5" stroke-width="2.5" fill="none" />
<path d="M 1371,126 L 1459,95" stroke-width="1.5" fill="none" />
<path d="M 1367,132.5 L 1398,152 Q 1402,154 1404,153" stroke-width="1.5" fill="none" />
<path d="M 1407,152.5 L 1498,113" stroke-width="1.5" fill="none" />
<path d="M 1300,113.75 L 1337.5,136.25 L 1357.5,136.25" stroke-width="2.5" fill="none" />
<path d="M 1317.5,127 L 1317.5,220 Q 1320,235 1327,242 Q 1334,250 1342.5,255 L 1452.5,320" stroke-width="2.5" fill="none" />
<path d="M 1338.75,140 L 1338.75,200 Q 1340,218 1350,227 L 1357.5,232.5 L 1480,301" stroke-width="2.5" fill="none" />
<path d="M 1461,135 L 1462.5,170 Q 1466,182 1480,187.5 L 1507.5,202.5" stroke-width="1.7" fill="none" />
<path d="M 1476,130 L 1477.5,155 Q 1480,168 1490,175 L 1512.5,187.5" stroke-width="2.5" fill="none" />
<path d="M 1231.75,72.5 L 1232,265 Q 1234,282 1240,292.5 L 1250,303.75" stroke-width="2.5" fill="none" />
<path d="M 1245,77.5 L 1245,262 Q 1247,278 1252.5,288.75" stroke-width="2.5" fill="none" />
<path d="M 1192.5,337.5 L 1252.5,306 L 1265,306 L 1375,370" stroke-width="2.5" fill="none" />
<path d="M 1305,406 L 1360,375" stroke-width="1.7" fill="none" />
<path d="M 1377.5,363.75 L 1440,332.5" stroke-width="1.5" fill="none" />
<line x1="1161" y1="302.5" x2="1222.5" y2="270" stroke-width="1.8"/>
<line x1="1176" y1="327.5" x2="1237.5" y2="295" stroke-width="1.8"/>
<line x1="1250" y1="257.5" x2="1312.5" y2="227.5" stroke-width="1.8"/>
<line x1="1260" y1="281" x2="1322.5" y2="251" stroke-width="1.8"/>
<path d="M 1145,330 Q 1146,342 1150,345 L 1162.5,352.5 L 1175,356 L 1182.5,350 L 1190,350 L 1300,417.5 L 1307.5,427.5" stroke-width="2.5" fill="none" />
<path d="M 1153.75,295 Q 1155,312 1162.5,320 L 1175,330 L 1182.5,337.5 L 1192.5,343 L 1305,406 Q 1312,411 1320,412.5 L 1335,405 L 1385,370" stroke-width="2.5" fill="none" />
<path d="M 1187,345 L 1303,411.5 Q 1310,416 1318,416.5" stroke-width="1.5" fill="none" />
<path d="M 1148.8,300 Q 1150,318 1158,325 L 1172,335 L 1180,343" stroke-width="1.5" fill="none" />
<path d="M 1507.5,289 L 1390,368" stroke-width="1.5" fill="none" />
<path d="M 1337,416 L 1336.5,444" stroke-width="1.5" fill="none" />
<g transform="translate(1155.5,172) rotate(-32.5)"><rect x="-34" y="-11.5" width="68" height="23" rx="6" fill="#fff" stroke-width="2.4"/><rect x="-31" y="-8.5" width="62" height="17" rx="4.5" fill="none" stroke-width="1.4"/><rect x="-22" y="-5" width="50" height="10" rx="3" fill="none" stroke-width="1.6"/><rect x="-31" y="-6.5" width="12" height="13" rx="2" fill="#fff" stroke-width="1.8"/></g>
<path d="M 1145,196 L 1145,330" stroke-width="2.5" fill="none" />
<path d="M 1147.8,197 L 1147.8,328" stroke-width="1.5" fill="none" />
<line x1="1521.5" y1="175.5" x2="1553" y2="175.5" stroke-width="1.5"/>
<line x1="933" y1="222" x2="933" y2="256" stroke-width="1.5"/>
<g transform="translate(182.5,590) rotate(-28)"><rect x="7.68" y="-3.8" width="19.5" height="7.6" rx="1.5" fill="#fff" stroke-width="1.8"/><line x1="9.3" y1="-3.0" x2="10.5" y2="3.0" stroke-width="1.4"/><line x1="11.7" y1="-3.0" x2="12.9" y2="3.0" stroke-width="1.4"/><line x1="14.1" y1="-3.0" x2="15.3" y2="3.0" stroke-width="1.4"/><line x1="16.5" y1="-3.0" x2="17.7" y2="3.0" stroke-width="1.4"/><line x1="18.9" y1="-3.0" x2="20.1" y2="3.0" stroke-width="1.4"/><line x1="21.3" y1="-3.0" x2="22.5" y2="3.0" stroke-width="1.4"/><line x1="23.7" y1="-3.0" x2="24.9" y2="3.0" stroke-width="1.4"/><line x1="26.1" y1="-3.0" x2="27.3" y2="3.0" stroke-width="1.4"/></g>
<circle cx="182.5" cy="590" r="9.6" fill="#fff" stroke-width="2.8"/>
<polygon points="186.7,588.5 185.5,594.9 179.8,597.0 175.3,592.5 176.5,586.1 182.2,584.0" stroke-width="1.3" fill="none"/>
<path d="M 185.4,582.8 Q 191.1,590.0 185.9,597.7" stroke-width="1.4"/>
<g transform="translate(183,906) rotate(-21)"><rect x="7.68" y="-3.8" width="19.5" height="7.6" rx="1.5" fill="#fff" stroke-width="1.8"/><line x1="9.3" y1="-3.0" x2="10.5" y2="3.0" stroke-width="1.4"/><line x1="11.7" y1="-3.0" x2="12.9" y2="3.0" stroke-width="1.4"/><line x1="14.1" y1="-3.0" x2="15.3" y2="3.0" stroke-width="1.4"/><line x1="16.5" y1="-3.0" x2="17.7" y2="3.0" stroke-width="1.4"/><line x1="18.9" y1="-3.0" x2="20.1" y2="3.0" stroke-width="1.4"/><line x1="21.3" y1="-3.0" x2="22.5" y2="3.0" stroke-width="1.4"/><line x1="23.7" y1="-3.0" x2="24.9" y2="3.0" stroke-width="1.4"/><line x1="26.1" y1="-3.0" x2="27.3" y2="3.0" stroke-width="1.4"/></g>
<circle cx="183" cy="906" r="9.6" fill="#fff" stroke-width="2.8"/>
<polygon points="187.4,905.2 185.4,911.5 179.5,912.7 175.6,907.8 177.6,901.5 183.5,900.3" stroke-width="1.3" fill="none"/>
<path d="M 185.9,898.8 Q 191.6,906.0 186.4,913.7" stroke-width="1.4"/>
<g transform="translate(205.5,633) rotate(31)"><rect x="5.1" y="-4.0" width="23" height="8" rx="2" fill="#fff" stroke-width="2"/><path d="M 10.1,-4.0 Q 12.3,0 10.7,4.0" stroke-width="1.8"/><path d="M 14.0,-4.0 Q 16.2,0 14.6,4.0" stroke-width="1.8"/><path d="M 17.9,-4.0 Q 20.1,0 18.5,4.0" stroke-width="1.8"/><path d="M 21.8,-4.0 Q 24.0,0 22.4,4.0" stroke-width="1.8"/><path d="M 25.7,-4.0 Q 27.9,0 26.3,4.0" stroke-width="1.8"/><rect x="-9.95" y="-7.0" width="7" height="14" rx="2.5" fill="#fff" stroke-width="2.2"/><line x1="-8.95" y1="-2.3333333333333335" x2="-5.949999999999999" y2="-2.3333333333333335" stroke-width="1.3"/><line x1="-8.95" y1="2.8" x2="-5.949999999999999" y2="2.8" stroke-width="1.3"/><ellipse cx="0" cy="0" rx="8.5" ry="11.5" fill="#fff" stroke-width="2.3"/><ellipse cx="2.55" cy="0" rx="5.27" ry="8.28" fill="none" stroke-width="1.3"/></g>
<line x1="211" y1="573.5" x2="338" y2="500.5" stroke-width="1.5"/>
<line x1="228.5" y1="646.5" x2="272" y2="671" stroke-width="1.5"/>
<line x1="210.6" y1="890" x2="298.75" y2="839" stroke-width="1.5"/>
<g transform="translate(574.4,587.8) rotate(-27)"><rect x="6" y="-3.2" width="18.5" height="6.4" rx="1.5" fill="#fff" stroke-width="1.8"/><line x1="7.6" y1="-2.4" x2="8.8" y2="2.4" stroke-width="1.4"/><line x1="10.0" y1="-2.4" x2="11.2" y2="2.4" stroke-width="1.4"/><line x1="12.4" y1="-2.4" x2="13.6" y2="2.4" stroke-width="1.4"/><line x1="14.8" y1="-2.4" x2="16.0" y2="2.4" stroke-width="1.4"/><line x1="17.2" y1="-2.4" x2="18.4" y2="2.4" stroke-width="1.4"/><line x1="19.6" y1="-2.4" x2="20.8" y2="2.4" stroke-width="1.4"/><line x1="22.0" y1="-2.4" x2="23.2" y2="2.4" stroke-width="1.4"/></g>
<circle cx="574.4" cy="587.8" r="7.6" fill="#fff" stroke-width="2.8"/>
<g transform="translate(662.5,691.6) rotate(-29)"><rect x="6" y="-3.2" width="18.5" height="6.4" rx="1.5" fill="#fff" stroke-width="1.8"/><line x1="7.6" y1="-2.4" x2="8.8" y2="2.4" stroke-width="1.4"/><line x1="10.0" y1="-2.4" x2="11.2" y2="2.4" stroke-width="1.4"/><line x1="12.4" y1="-2.4" x2="13.6" y2="2.4" stroke-width="1.4"/><line x1="14.8" y1="-2.4" x2="16.0" y2="2.4" stroke-width="1.4"/><line x1="17.2" y1="-2.4" x2="18.4" y2="2.4" stroke-width="1.4"/><line x1="19.6" y1="-2.4" x2="20.8" y2="2.4" stroke-width="1.4"/><line x1="22.0" y1="-2.4" x2="23.2" y2="2.4" stroke-width="1.4"/></g>
<circle cx="662.5" cy="691.6" r="7.6" fill="#fff" stroke-width="2.8"/>
<path d="M 571.4,590.3 L 575.4,588.3 M 572.9,585.8 L 574.9,590.5999999999999" stroke-width="1.2"/>
<path d="M 659.5,694.1 L 663.5,692.1 M 661.0,689.6 L 663.0,694.4" stroke-width="1.2"/>
<line x1="573" y1="550.5" x2="573" y2="579.5" stroke-width="1.5"/>
<line x1="666" y1="699.5" x2="666" y2="725" stroke-width="1.5"/>
<line x1="601.5" y1="570.7" x2="626" y2="556" stroke-width="1.5"/>
<line x1="689.5" y1="675" x2="714" y2="661" stroke-width="1.5"/>
<line x1="699.8" y1="520.6" x2="699.8" y2="566.5" stroke-width="1.5"/>
<g transform="translate(701.7,588.3) rotate(-30.40)">
<clipPath id="cyl7"><path d="M -12,-21.3 L 71.93860229390054,-21.3 A 9.4 21.3 0 0 1 71.93860229390054,21.3 L -12,21.3 Z"/></clipPath>
<path d="M -12,-21.3 L 71.93860229390054,-21.3 A 9.4 21.3 0 0 1 71.93860229390054,21.3 L -12,21.3 Z" fill="#fff" stroke-width="2.4"/>
<g clip-path="url(#cyl7)" stroke-width="1.6">
<path d="M -31.0,-21.3 Q -19.0,-8.5 -14.0,21.3" />
<path d="M -31.0,21.3 Q -19.0,8.5 -14.0,-21.3" />
<path d="M -24.0,-21.3 Q -12.0,-8.5 -7.0,21.3" />
<path d="M -24.0,21.3 Q -12.0,8.5 -7.0,-21.3" />
<path d="M -17.0,-21.3 Q -5.0,-8.5 0.0,21.3" />
<path d="M -17.0,21.3 Q -5.0,8.5 0.0,-21.3" />
<path d="M -10.0,-21.3 Q 2.0,-8.5 7.0,21.3" />
<path d="M -10.0,21.3 Q 2.0,8.5 7.0,-21.3" />
<path d="M -3.0,-21.3 Q 9.0,-8.5 14.0,21.3" />
<path d="M -3.0,21.3 Q 9.0,8.5 14.0,-21.3" />
<path d="M 4.0,-21.3 Q 16.0,-8.5 21.0,21.3" />
<path d="M 4.0,21.3 Q 16.0,8.5 21.0,-21.3" />
<path d="M 11.0,-21.3 Q 23.0,-8.5 28.0,21.3" />
<path d="M 11.0,21.3 Q 23.0,8.5 28.0,-21.3" />
<path d="M 18.0,-21.3 Q 30.0,-8.5 35.0,21.3" />
<path d="M 18.0,21.3 Q 30.0,8.5 35.0,-21.3" />
<path d="M 25.0,-21.3 Q 37.0,-8.5 42.0,21.3" />
<path d="M 25.0,21.3 Q 37.0,8.5 42.0,-21.3" />
<path d="M 32.0,-21.3 Q 44.0,-8.5 49.0,21.3" />
<path d="M 32.0,21.3 Q 44.0,8.5 49.0,-21.3" />
<path d="M 39.0,-21.3 Q 51.0,-8.5 56.0,21.3" />
<path d="M 39.0,21.3 Q 51.0,8.5 56.0,-21.3" />
<path d="M 46.0,-21.3 Q 58.0,-8.5 63.0,21.3" />
<path d="M 46.0,21.3 Q 58.0,8.5 63.0,-21.3" />
<path d="M 53.0,-21.3 Q 65.0,-8.5 70.0,21.3" />
<path d="M 53.0,21.3 Q 65.0,8.5 70.0,-21.3" />
<path d="M 60.0,-21.3 Q 72.0,-8.5 77.0,21.3" />
<path d="M 60.0,21.3 Q 72.0,8.5 77.0,-21.3" />
<path d="M 67.0,-21.3 Q 79.0,-8.5 84.0,21.3" />
<path d="M 67.0,21.3 Q 79.0,8.5 84.0,-21.3" />
<path d="M 74.0,-21.3 Q 86.0,-8.5 91.0,21.3" />
<path d="M 74.0,21.3 Q 86.0,8.5 91.0,-21.3" />
<path d="M 81.0,-21.3 Q 93.0,-8.5 98.0,21.3" />
<path d="M 81.0,21.3 Q 93.0,8.5 98.0,-21.3" />
<path d="M -8.0,-21.3 A 9.4 21.3 0 0 1 -8.0,21.3" stroke-width="1.9"/>
<path d="M -1.0,-21.3 A 9.4 21.3 0 0 1 -1.0,21.3" stroke-width="1.9"/>
<path d="M 6.0,-21.3 A 9.4 21.3 0 0 1 6.0,21.3" stroke-width="1.9"/>
<path d="M 13.0,-21.3 A 9.4 21.3 0 0 1 13.0,21.3" stroke-width="1.9"/>
<path d="M 20.0,-21.3 A 9.4 21.3 0 0 1 20.0,21.3" stroke-width="1.9"/>
<path d="M 27.0,-21.3 A 9.4 21.3 0 0 1 27.0,21.3" stroke-width="1.9"/>
<path d="M 34.0,-21.3 A 9.4 21.3 0 0 1 34.0,21.3" stroke-width="1.9"/>
<path d="M 41.0,-21.3 A 9.4 21.3 0 0 1 41.0,21.3" stroke-width="1.9"/>
<path d="M 48.0,-21.3 A 9.4 21.3 0 0 1 48.0,21.3" stroke-width="1.9"/>
<path d="M 55.0,-21.3 A 9.4 21.3 0 0 1 55.0,21.3" stroke-width="1.9"/>
<path d="M 62.0,-21.3 A 9.4 21.3 0 0 1 62.0,21.3" stroke-width="1.9"/>
<path d="M 69.0,-21.3 A 9.4 21.3 0 0 1 69.0,21.3" stroke-width="1.9"/>
</g>
<path d="M 70.43860229390054,-21.3 A 9.4 21.3 0 0 1 70.43860229390054,21.3" stroke-width="2.2"/>
</g>
<path d="M 698,640 Q 700,626 704,620.5 L 718,613.5 Q 722,613 725,617 L 730.5,626 L 735.8,657 Q 736,662 731,665.5 L 727,667.5 Q 722,668 716,664 L 695,651.5" stroke-width="2.5" fill="#fff" />
<path d="M 706,626 L 717,619.5 Q 720,619 722,622 L 726,630 L 730.5,656 Q 730.5,660 727,661.5 L 722,662" stroke-width="1.5" fill="none" />
<path d="M 701.5,623.5 Q 712,634 711.5,641 Q 708,654 697,652" stroke-width="2.5" fill="none" />
<circle cx="720.6" cy="655" r="4.7" fill="#fff" stroke-width="1.8"/>
<ellipse cx="721.3" cy="655.3" rx="2.3" ry="3" stroke-width="1.2"/>
<path d="M 629,571 L 623,545 Q 622.5,541 626,539 L 629,537.5 L 655,540.5 Q 658,541 660,544 L 667,555 L 664,559.5 L 647,566" stroke-width="2.5" fill="#fff" />
<path d="M 631,565 L 626.5,547 L 630,543.5 L 653,546 L 659.5,555 L 645.5,560 L 634,569" stroke-width="1.5" fill="none" />
<circle cx="633.4" cy="551.9" r="4.7" fill="#fff" stroke-width="1.8"/>
<ellipse cx="634.3" cy="552.1" rx="2.3" ry="3" stroke-width="1.2"/>
<path d="M 672,568.5 L 676,569.7 L 692.5,566 L 711,610 L 702.5,620 Z" stroke-width="2.5" fill="#fff" />
<path d="M 681,569 Q 700,588 704.5,617" stroke-width="1.5" fill="none" />
<path d="M 688,567.3 Q 705,586 709,612" stroke-width="1.5" fill="none" />
<g transform="translate(666.5,609.5) rotate(61)"><ellipse cx="0" cy="0" rx="49" ry="35.8" fill="#fff" stroke-width="2.2"/></g>
<g transform="translate(661.5,612.2) rotate(61)"><ellipse cx="0" cy="0" rx="49" ry="35.8" fill="#fff" stroke-width="2.4"/><ellipse cx="-0.5" cy="-1.6" rx="46.5" ry="33" fill="none" stroke-width="1.2"/></g>
<defs><pattern id="mesh7" width="5.2" height="5.6" patternUnits="userSpaceOnUse" patternTransform="rotate(8)"><rect width="5.2" height="5.6" fill="#000"/><path d="M 2.6,0.6 L 4.6,2.8 L 2.6,5.0 L 0.6,2.8 Z" fill="#fff" stroke="none"/></pattern></defs>
<g transform="translate(658.4,613.2) rotate(61)"><ellipse cx="0" cy="0" rx="30.4" ry="22.5" fill="#fff" stroke-width="2"/><ellipse cx="-0.3" cy="0.8" rx="26" ry="18.6" fill="url(#mesh7)" stroke-width="2.6"/><path d="M 24,-12 A 28 20.3 0 0 0 -8,-19.6" stroke-width="2.6" fill="none"/></g>
<line x1="1076" y1="481" x2="1140" y2="513.75" stroke-width="1.7"/>
<line x1="1119" y1="508" x2="1144.6" y2="521" stroke-width="1.7"/>
<line x1="1119.6" y1="525.4" x2="1142.5" y2="538" stroke-width="1.7"/>
<line x1="1169.6" y1="537" x2="1186" y2="545.5" stroke-width="1.7"/>
<line x1="1219.6" y1="567" x2="1250.8" y2="583.75" stroke-width="1.7"/>
<line x1="1215.4" y1="581.7" x2="1242.5" y2="595" stroke-width="1.7"/>
<line x1="1080" y1="602.5" x2="1102" y2="614" stroke-width="1.7"/>
<line x1="1124.8" y1="628.5" x2="1155" y2="645" stroke-width="1.7"/>
<line x1="1167.5" y1="652.5" x2="1205" y2="674" stroke-width="1.7"/>
<line x1="1033.75" y1="573.75" x2="1105" y2="615" stroke-width="1.7"/>
<line x1="1234" y1="530.6" x2="1290" y2="561" stroke-width="1.7"/>
<line x1="1292.5" y1="607.5" x2="1397.5" y2="667.5" stroke-width="1.7"/>
<line x1="1345" y1="655" x2="1392.5" y2="682.5" stroke-width="1.7"/>
<line x1="1320" y1="480" x2="1415" y2="533.75" stroke-width="1.7"/>
<line x1="1190" y1="547.5" x2="1250" y2="583.75" stroke-width="1.7"/>
<line x1="1215" y1="582.5" x2="1242.5" y2="596" stroke-width="1.7"/>
<line x1="1250" y1="700" x2="1355" y2="756" stroke-width="1.7"/>
<line x1="1190" y1="665" x2="1205" y2="674" stroke-width="1.7"/>
<line x1="1347.5" y1="640" x2="1397.5" y2="667.5" stroke-width="1.7"/>
<line x1="1415" y1="697.5" x2="1437.5" y2="708.75" stroke-width="1.7"/>
<line x1="1528.75" y1="452.5" x2="1580" y2="481" stroke-width="1.7"/>
<line x1="1702.5" y1="430" x2="1735" y2="447.5" stroke-width="1.7"/>
<line x1="1220" y1="474" x2="1220" y2="506.7" stroke-width="1.7"/>
<line x1="1160.8" y1="640" x2="1160.8" y2="673" stroke-width="1.7"/>
<line x1="1409.5" y1="695" x2="1409.5" y2="720" stroke-width="1.7"/>
<line x1="1455.5" y1="735" x2="1455.5" y2="765" stroke-width="1.7"/>
<line x1="1373" y1="787" x2="1373" y2="817" stroke-width="1.7"/>
<line x1="1475" y1="548.75" x2="1507.5" y2="548.75" stroke-width="1.7"/>
<line x1="1562.5" y1="602.5" x2="1592.5" y2="602.5" stroke-width="1.7"/>
<line x1="1628.75" y1="430" x2="1628.75" y2="466" stroke-width="1.7"/>
<line x1="1680" y1="368.75" x2="1680" y2="400" stroke-width="1.7"/>
<line x1="1487.5" y1="387.5" x2="1487.5" y2="410" stroke-width="1.7"/>
<line x1="1322" y1="473" x2="1351" y2="473" stroke-width="1.7"/>
<path d="M 1148.75,527.5 Q 1150,517 1161,515 Q 1170,514.5 1174,520 Q 1176.5,524 1175.8,530 L 1175.8,544 Q 1178,553 1186,557 L 1205,557.7 Q 1213,559 1216.5,565 Q 1219.5,571 1218,577 Q 1216.5,581 1213,584.5 L 1163,635.8 Q 1157,641 1150.8,641 L 1116,640.5 Q 1106,639 1103,631.7 Q 1101.5,625 1105,618 Q 1108,613 1113,610.8 Q 1130,595 1138,581.7 Q 1145,568 1146.7,552.5 Z" stroke-width="2.5" fill="#fff" />
<path d="M 1152,528.5 Q 1153,520 1161,518.5 Q 1168,518 1170.5,522.5 L 1171.5,546 Q 1173,557 1185,561.5 L 1204,562 Q 1210,563 1212.5,567 Q 1214.5,572 1212,577 L 1162,630 Q 1157,636 1151,637 L 1117,636.5 Q 1109,635.5 1107,630 Q 1105.5,625 1108,620 Q 1110,616 1115,614 Q 1133,598 1141.5,583 Q 1148.5,569 1150,553 Z" stroke-width="1.3" fill="none" />
<ellipse cx="1163.3" cy="534.8" rx="5.4" ry="7.4" transform="rotate(30 1163.3 534.8)" stroke-width="2" fill="#fff"/>
<ellipse cx="1163.8999999999999" cy="535.0999999999999" rx="2.8" ry="4.6" transform="rotate(30 1163.3 534.8)" stroke-width="1.2"/>
<ellipse cx="1207" cy="575.4" rx="5.4" ry="7.4" transform="rotate(30 1207 575.4)" stroke-width="2" fill="#fff"/>
<ellipse cx="1207.6" cy="575.6999999999999" rx="2.8" ry="4.6" transform="rotate(30 1207 575.4)" stroke-width="1.2"/>
<ellipse cx="1119.6" cy="625.4" rx="5.4" ry="7.4" transform="rotate(30 1119.6 625.4)" stroke-width="2" fill="#fff"/>
<ellipse cx="1120.1999999999998" cy="625.6999999999999" rx="2.8" ry="4.6" transform="rotate(30 1119.6 625.4)" stroke-width="1.2"/>
<g transform="translate(1165.4,600.8) rotate(32.7)"><ellipse cx="0" cy="0" rx="24" ry="35" stroke-width="2.2" fill="#fff"/><ellipse cx="0" cy="0" rx="20.5" ry="31.2" stroke-width="3.4"/><ellipse cx="0" cy="0" rx="17" ry="27.5" stroke-width="1.2"/></g>
<line x1="1169.6" y1="537" x2="1186" y2="545.5" stroke-width="1.7"/>
<line x1="1124.8" y1="628.5" x2="1155" y2="645" stroke-width="1.7"/>
<g transform="translate(1222.5,522.5) scale(1.05)"><path d="M -5,-16 L -14.5,-11 Q -17.5,-7 -17.25,-2 L -15.4,5.4 L -10.4,9.5 L -3,8 Z" fill="#fff" stroke-width="2.5"/><path d="M -11,-11 L -13.5,3 M -3,-14.6 L -8,6.6" stroke-width="1.5"/><ellipse cx="1.5" cy="1" rx="11.5" ry="15.5" transform="rotate(-22)" fill="#fff" stroke-width="2.4"/><ellipse cx="-1.8" cy="-0.5" rx="10" ry="14.5" transform="rotate(-22)" fill="none" stroke-width="1.2"/><ellipse cx="4" cy="2.2" rx="4.4" ry="5.8" transform="rotate(-22)" fill="#fff" stroke-width="2.6"/><ellipse cx="4.6" cy="2.6" rx="2.2" ry="3.4" transform="rotate(-22)" fill="none" stroke-width="1.1"/></g>
<g transform="translate(1308,471.5) scale(1.0)"><path d="M -5,-16 L -14.5,-11 Q -17.5,-7 -17.25,-2 L -15.4,5.4 L -10.4,9.5 L -3,8 Z" fill="#fff" stroke-width="2.5"/><path d="M -11,-11 L -13.5,3 M -3,-14.6 L -8,6.6" stroke-width="1.5"/><ellipse cx="1.5" cy="1" rx="11.5" ry="15.5" transform="rotate(-22)" fill="#fff" stroke-width="2.4"/><ellipse cx="-1.8" cy="-0.5" rx="10" ry="14.5" transform="rotate(-22)" fill="none" stroke-width="1.2"/><ellipse cx="4" cy="2.2" rx="4.4" ry="5.8" transform="rotate(-22)" fill="#fff" stroke-width="2.6"/><ellipse cx="4.6" cy="2.6" rx="2.2" ry="3.4" transform="rotate(-22)" fill="none" stroke-width="1.1"/></g>
<g transform="translate(1416.5,677.5) scale(1.0)"><ellipse cx="-3" cy="0" rx="12.5" ry="17" transform="rotate(-18)" fill="#fff" stroke-width="3"/><ellipse cx="-0.2" cy="0.5" rx="10.5" ry="15" transform="rotate(-18)" fill="none" stroke-width="1.6"/><path d="M -4,-9 L 5,-10.5 L 13,-5.5 L 14.5,5 L 8,11.5 L -1,10 L -6,3 Z" fill="#fff" stroke-width="2.2"/><path d="M -4,-9 L 0,-3 L -1,10 M 0,-3 L 8,-4.5 L 13,-5.5 M 8,-4.5 L 8,11.5" stroke-width="1.2"/><ellipse cx="9.5" cy="3" rx="4.2" ry="5.4" fill="#fff" stroke-width="2"/><ellipse cx="10.3" cy="3.2" rx="2" ry="3" fill="none" stroke-width="1.1"/></g>
<g transform="translate(1458.5,719) scale(1.0)"><ellipse cx="-3" cy="0" rx="12.5" ry="17" transform="rotate(-18)" fill="#fff" stroke-width="3"/><ellipse cx="-0.2" cy="0.5" rx="10.5" ry="15" transform="rotate(-18)" fill="none" stroke-width="1.6"/><path d="M -4,-9 L 5,-10.5 L 13,-5.5 L 14.5,5 L 8,11.5 L -1,10 L -6,3 Z" fill="#fff" stroke-width="2.2"/><path d="M -4,-9 L 0,-3 L -1,10 M 0,-3 L 8,-4.5 L 13,-5.5 M 8,-4.5 L 8,11.5" stroke-width="1.2"/><ellipse cx="9.5" cy="3" rx="4.2" ry="5.4" fill="#fff" stroke-width="2"/><ellipse cx="10.3" cy="3.2" rx="2" ry="3" fill="none" stroke-width="1.1"/></g>
<g transform="translate(1376,771) scale(1.0)"><ellipse cx="-3" cy="0" rx="12.5" ry="17" transform="rotate(-18)" fill="#fff" stroke-width="3"/><ellipse cx="-0.2" cy="0.5" rx="10.5" ry="15" transform="rotate(-18)" fill="none" stroke-width="1.6"/><path d="M -4,-9 L 5,-10.5 L 13,-5.5 L 14.5,5 L 8,11.5 L -1,10 L -6,3 Z" fill="#fff" stroke-width="2.2"/><path d="M -4,-9 L 0,-3 L -1,10 M 0,-3 L 8,-4.5 L 13,-5.5 M 8,-4.5 L 8,11.5" stroke-width="1.2"/><ellipse cx="9.5" cy="3" rx="4.2" ry="5.4" fill="#fff" stroke-width="2"/><ellipse cx="10.3" cy="3.2" rx="2" ry="3" fill="none" stroke-width="1.1"/></g>
<path d="M 1290,565 L 1262,586.5 Q 1257,587 1252.5,590 L 1232.5,640 L 1210.5,686 Q 1208,694 1212.5,700 Q 1219,707 1227.5,708.75 L 1252.5,697.5 L 1256,692" stroke-width="2.5" fill="#fff" />
<path d="M 1265,597.5 L 1225,680" stroke-width="1.7" fill="none" />
<path d="M 1262,586.5 L 1268,590" stroke-width="1.5" fill="none" />
<path d="M 1290,562.5 Q 1288,545 1291,530 Q 1297,514 1312,508.5 Q 1330,503.5 1350,506 Q 1362,509 1372,516 L 1410,537.5 L 1411,551 L 1392.5,561 L 1377.5,567.5 L 1365,587.5 L 1352.5,605 L 1345,597.5 Q 1346,612 1340,628 L 1318,682 Q 1311,696 1297,702.5 Q 1283,706.5 1268,701 L 1255,692.5 Q 1253,680 1257,668 Q 1262,652 1272.5,632 L 1292.5,610 Q 1298,596 1295,580 Z" stroke-width="2.5" fill="#fff" />
<path d="M 1298,588 Q 1305,599 1322,600 L 1338,600" stroke-width="1.8" fill="none" />
<path d="M 1299,596 Q 1306,606 1322,606.5 L 1337,607" stroke-width="1.8" fill="none" />
<path d="M 1302,604 Q 1310,611 1324,611.5 L 1336,612" stroke-width="1.8" fill="none" />
<path d="M 1322.5,583.5 Q 1326,580 1331,580.5 L 1346,591" stroke-width="1.8" fill="none" />
<path d="M 1327,583.5 L 1343,594" stroke-width="1.5" fill="none" />
<path d="M 1345,598 Q 1343,614 1338,626 L 1303,680.5 L 1300,680" stroke-width="1.7" fill="none" />
<path d="M 1353,627 L 1315,680.5" stroke-width="1.7" fill="none" />
<path d="M 1349,622 L 1310,677" stroke-width="1.5" fill="none" />
<line x1="1292.5" y1="563" x2="1325" y2="581" stroke-width="1.5"/>
<path d="M 1266,597 Q 1267,588 1278,586.5 Q 1291,586 1295.5,594 Q 1298,603 1293,611 Q 1288,617 1281,620 L 1278.5,629 L 1272,629.5 L 1271.5,620.5 Q 1264,613 1266,597 Z" stroke-width="2.5" fill="#fff" />
<ellipse cx="1279" cy="600.5" rx="9.2" ry="11" transform="rotate(25 1279 600.5)" stroke-width="1.3"/>
<ellipse cx="1279.5" cy="600.5" rx="5" ry="6.4" transform="rotate(25 1279.5 600.5)" stroke-width="2"/>
<path d="M 1224,690 Q 1223,679 1233,676 Q 1246,674 1251,683 Q 1253,692 1248,700 Q 1240,707.5 1231,706 Q 1224.5,703 1224,690 Z" stroke-width="2.5" fill="#fff" />
<path d="M 1224,682 L 1253,668 M 1249,700 L 1262,693" stroke-width="1.7" fill="none" />
<ellipse cx="1236.5" cy="691" rx="8.4" ry="10.4" transform="rotate(25 1236.5 691)" stroke-width="1.3"/>
<ellipse cx="1236.5" cy="691.5" rx="4.8" ry="6.2" transform="rotate(25 1236.5 691.5)" stroke-width="2"/>
<line x1="1279" y1="600.5" x2="1292.5" y2="607.5" stroke-width="1.5"/>
<line x1="1236" y1="691" x2="1250" y2="700" stroke-width="1.5"/>
<path d="M 1407.5,552.5 L 1410,540 L 1440,528.75 Q 1444,528.5 1447.5,531 L 1472.5,548.75" stroke-width="2.5" fill="#fff" />
<path d="M 1412,549 L 1450,538.75" stroke-width="1.7" fill="none" />
<path d="M 1407.5,553.75 L 1392.5,561 Q 1383,564 1377.5,567.5 L 1365,587.5 L 1352.5,605 Q 1351,611 1355,615 L 1380,630" stroke-width="2.5" fill="#fff" />
<path d="M 1402.5,562.5 Q 1392,580 1377.5,597.5 Q 1375,601.5 1371,602.5" stroke-width="2.5" fill="none" />
<path d="M 1407.5,552.5 L 1465,545 Q 1470,545.5 1472.5,548.75 Q 1476,553 1475,557.5 Q 1474,565 1470,572.5 L 1430,622.5 L 1390,635 Q 1385,635 1381.5,631 Q 1379,625 1381,617.5 Z" stroke-width="2.5" fill="#fff" />
<ellipse cx="1427.5" cy="591" rx="18.5" ry="26.5" transform="rotate(22 1427.5 591)" stroke-width="2.2"/>
<ellipse cx="1462.5" cy="562.5" rx="5.2" ry="6.6" transform="rotate(20 1462.5 562.5)" stroke-width="2"/>
<ellipse cx="1392.5" cy="622.5" rx="5.2" ry="6.6" transform="rotate(20 1392.5 622.5)" stroke-width="2"/>
<path d="M 1466,563.5 L 1473,567 L 1477,571" stroke-width="1.5" fill="none" />
<path d="M 1396,623.5 L 1402,626" stroke-width="1.5" fill="none" />
<path d="M 1487.5,605 Q 1486,597 1491,593 Q 1497,589.5 1503,592.5 Q 1508,596 1510,602.5 L 1515,603.75 L 1547.5,590 Q 1554,588.5 1558.5,592 Q 1563,596 1562.5,601 Q 1562,607 1560,612.5 L 1537.5,647.5 L 1535,653 L 1540,660 Q 1542,667 1540,672.5 Q 1537,677.5 1532.5,677.5 Q 1527,677 1524,673 L 1518.75,666 L 1480,680 Q 1474,681.5 1469,679 Q 1464,676 1464,670 Q 1464,667 1465.5,664 L 1490,620 L 1492.5,612.5 Z" stroke-width="2.4" fill="#fff" />
<path d="M 1490.5,604.5 Q 1489.5,598.5 1493,595.5 Q 1497,593 1501,595.5 Q 1505,598.5 1507,605 L 1515,607 L 1548,593.5 Q 1553,592.5 1556,595 Q 1559,598 1558.5,602 L 1556,611.5 L 1534,645.5 L 1531,653 L 1536.5,661 Q 1538,666 1536.5,670.5 Q 1535,674 1532,674 Q 1528.5,673.5 1526.5,670.5 L 1520,662 L 1479,676.5 Q 1474.5,677.5 1471,675.5 Q 1467.5,673 1467.5,669.5 L 1469,665.5 L 1493,622 L 1495.5,613 Z" stroke-width="1.2" fill="none" />
<ellipse cx="1515" cy="636" rx="17.5" ry="25.5" transform="rotate(24 1515 636)" stroke-width="2.4"/>
<ellipse cx="1515.8" cy="636" rx="15" ry="23" transform="rotate(24 1515 636)" stroke-width="1.2"/>
<ellipse cx="1497.5" cy="602.5" rx="3" ry="4" transform="rotate(25 1497.5 602.5)" stroke-width="1.8"/>
<ellipse cx="1550" cy="606" rx="3.6" ry="6.6" transform="rotate(28 1550 606)" stroke-width="1.8"/>
<ellipse cx="1480" cy="666" rx="3.6" ry="6.6" transform="rotate(28 1480 666)" stroke-width="1.8"/>
<ellipse cx="1532.5" cy="667.5" rx="3" ry="4" transform="rotate(25 1532.5 667.5)" stroke-width="1.8"/>
<path d="M 1605,480 L 1630,466.25 L 1735,452.5 L 1752.5,442.5 Q 1760,441.5 1765,445 Q 1771,448 1773.75,452.5 L 1775,477.5 L 1780,480 L 1777.5,486 L 1742.5,507.5 L 1642.5,520 L 1620,531 L 1610,528.75 L 1600,515 Z" stroke-width="2.4" fill="#fff" />
<path d="M 1612.5,482.5 L 1635,471 L 1735,457.5 L 1757.5,445" stroke-width="1.7" fill="none" />
<path d="M 1630,486 L 1640,475 L 1735,462.5 L 1757.5,450" stroke-width="2.5" fill="none" />
<path d="M 1630,510 L 1737.5,493.75 L 1772.5,477.5" stroke-width="2.5" fill="none" />
<path d="M 1625,517.5 L 1642.5,515 L 1740,502.5 L 1776,482" stroke-width="1.7" fill="none" />
<path d="M 1738.75,462.5 L 1738.75,493.75" stroke-width="1.7" fill="none" />
<ellipse cx="1761" cy="462.5" rx="5.2" ry="6.2" transform="rotate(30 1761 462.5)" stroke-width="2"/>
<path d="M 1757.5,465 L 1765,460" stroke-width="1.5" fill="none" />
<path d="M 1605,480 L 1630,486 L 1630,510 L 1612,522" stroke-width="2.5" fill="none" />
<path d="M 1609,484 L 1609,520" stroke-width="1.7" fill="none" />
<path d="M 1611,497 L 1625,491 L 1628.5,497 L 1628.5,510 L 1616,517.5 L 1611,512 Z" stroke-width="2.2" fill="#fff" />
<ellipse cx="1620" cy="506" rx="3.6" ry="4.6" stroke-width="2"/>
<circle cx="1620.3" cy="506.3" r="1.3" fill="#000" stroke="none"/>
<path d="M 1598,501 L 1583,495 Q 1579,492.5 1580,486.5 Q 1582,481 1587.5,481.5 L 1601,487" stroke-width="2.4" fill="#fff" />
<path d="M 1596,490 L 1605,494 M 1597,498 L 1602,501" stroke-width="1.8" fill="none" />
<path d="M 1602,488 Q 1597,494 1600,502" stroke-width="1.8" fill="none" />
<g transform="translate(1481,424.5) rotate(31.5)"><rect x="5.1" y="-5.75" width="49" height="11.5" rx="2" fill="#fff" stroke-width="2"/><path d="M 10.1,-5.8 Q 12.3,0 10.7,5.8" stroke-width="1.8"/><path d="M 14.0,-5.8 Q 16.2,0 14.6,5.8" stroke-width="1.8"/><path d="M 17.9,-5.8 Q 20.1,0 18.5,5.8" stroke-width="1.8"/><path d="M 21.8,-5.8 Q 24.0,0 22.4,5.8" stroke-width="1.8"/><path d="M 25.7,-5.8 Q 27.9,0 26.3,5.8" stroke-width="1.8"/><path d="M 29.6,-5.8 Q 31.8,0 30.2,5.8" stroke-width="1.8"/><path d="M 33.5,-5.8 Q 35.7,0 34.1,5.8" stroke-width="1.8"/><path d="M 37.4,-5.8 Q 39.6,0 38.0,5.8" stroke-width="1.8"/><path d="M 41.3,-5.8 Q 43.5,0 41.9,5.8" stroke-width="1.8"/><path d="M 45.2,-5.8 Q 47.4,0 45.8,5.8" stroke-width="1.8"/><path d="M 49.1,-5.8 Q 51.3,0 49.7,5.8" stroke-width="1.8"/><rect x="-15.95" y="-9.5" width="13" height="19" rx="2.5" fill="#fff" stroke-width="2.2"/><line x1="-14.95" y1="-3.1666666666666665" x2="-5.949999999999999" y2="-3.1666666666666665" stroke-width="1.3"/><line x1="-14.95" y1="3.8" x2="-5.949999999999999" y2="3.8" stroke-width="1.3"/><ellipse cx="0" cy="0" rx="8.5" ry="14" fill="#fff" stroke-width="2.3"/><ellipse cx="2.55" cy="0" rx="5.27" ry="10.08" fill="none" stroke-width="1.3"/></g>
<g transform="translate(1677,413) rotate(30)"><rect x="4.5" y="-5.0" width="28" height="10" rx="2" fill="#fff" stroke-width="2"/><path d="M 9.5,-5.0 Q 11.7,0 10.1,5.0" stroke-width="1.8"/><path d="M 13.4,-5.0 Q 15.6,0 14.0,5.0" stroke-width="1.8"/><path d="M 17.3,-5.0 Q 19.5,0 17.9,5.0" stroke-width="1.8"/><path d="M 21.2,-5.0 Q 23.4,0 21.8,5.0" stroke-width="1.8"/><path d="M 25.1,-5.0 Q 27.3,0 25.7,5.0" stroke-width="1.8"/><path d="M 29.0,-5.0 Q 31.2,0 29.6,5.0" stroke-width="1.8"/><rect x="-13.75" y="-8.25" width="11.5" height="16.5" rx="2.5" fill="#fff" stroke-width="2.2"/><line x1="-12.75" y1="-2.75" x2="-5.25" y2="-2.75" stroke-width="1.3"/><line x1="-12.75" y1="3.3" x2="-5.25" y2="3.3" stroke-width="1.3"/><ellipse cx="0" cy="0" rx="7.5" ry="12" fill="#fff" stroke-width="2.3"/><ellipse cx="2.25" cy="0" rx="4.65" ry="8.64" fill="none" stroke-width="1.3"/></g>
<polygon points="1840,864.5 1877.1,885.6 1881.5,876.9 1891,906.7 1860.4,915.5 1864,907.5 1829,885.6" fill="#000" stroke="#000" stroke-width="0.8"/>
<text transform="translate(1778.2,855) rotate(30)" x="0" y="0" letter-spacing="1.6" font-size="31" font-weight="bold" fill="#000" stroke="#000" stroke-width="1.5" stroke-linejoin="miter">FR.</text>
</svg>
</body></html>
